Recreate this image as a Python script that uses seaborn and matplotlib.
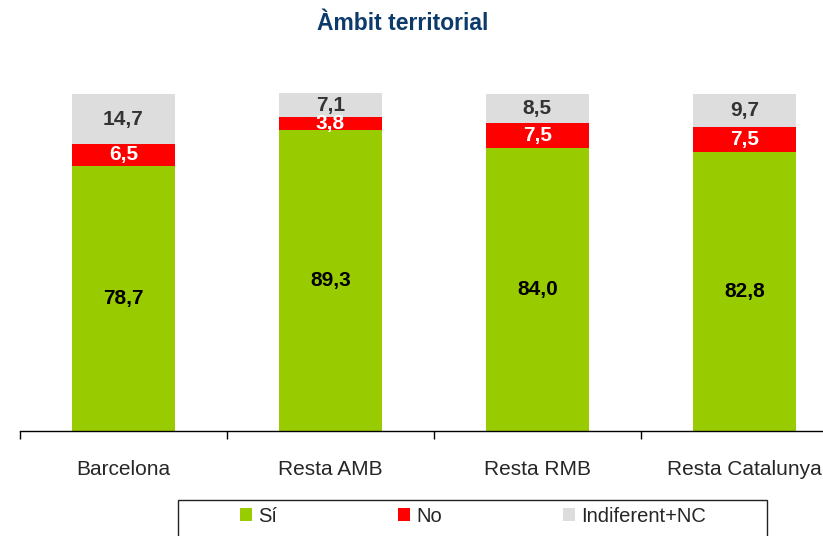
import numpy as np
import matplotlib
matplotlib.use("Agg")
import matplotlib.pyplot as plt
from matplotlib.patches import Patch, Rectangle
import seaborn as sns

# Data
categories = ["Barcelona", "Resta AMB", "Resta RMB", "Resta Catalunya"]
si = [78.7, 89.3, 84.0, 82.8]
no = [6.5, 3.8, 7.5, 7.5]
indiferent = [14.7, 7.1, 8.5, 9.7]
series_names = ["Sí", "No", "Indiferent+NC"]

colors = ["#99CC00", "#FF0000", "#DDDDDD"]
label_colors = ["#000000", "#FFFFFF", "#333333"]

sns.set_style("white")
plt.rcParams["font.family"] = ["Liberation Sans", "DejaVu Sans"]

W, H = 823, 536
fig = plt.figure(figsize=(W / 100, H / 100), dpi=100)

# axes placement in pixels (bottom axis line at y=431, 100 units ~ 337 px)
ymax = 100.5
ax_top = 431 - ymax * 3.37
ax = fig.add_axes([20 / W, (H - 431) / H, 803 / W, (431 - ax_top) / H])

bottom = np.zeros(len(categories))
for vals, col, lcol in zip([si, no, indiferent], colors, label_colors):
    sns.barplot(x=categories, y=vals, bottom=bottom, color=col, width=0.5,
                saturation=1, ax=ax, linewidth=0)
    for i, v in enumerate(vals):
        ax.text(i, bottom[i] + v / 2, f"{v:.1f}".replace(".", ","),
                ha="center", va="center", fontsize=15, fontweight="bold",
                color=lcol)
    bottom = bottom + np.array(vals)

ax.set_yticks([])
ax.set_ylabel("")
for s in ["top", "right", "left"]:
    ax.spines[s].set_visible(False)
ax.spines["bottom"].set_color("#000000")
ax.spines["bottom"].set_linewidth(1)

# category labels without ticks, boundary ticks as minor ticks
ax.set_xticks(range(len(categories)))
ax.set_xticklabels(categories, fontsize=15)
ax.set_xticks([-0.5, 0.5, 1.5, 2.5, 3.5], minor=True)
ax.tick_params(axis="x", which="major", bottom=True, length=0, pad=21)
ax.tick_params(axis="x", which="minor", bottom=True, length=6, width=1,
               color="#000000", direction="out")
ax.set_xlim(-0.5, 3.38)
ax.set_ylim(0, ymax)

fig.text(403 / W, 1 - 23 / H, "Àmbit territorial", ha="center", va="center",
         fontsize=16.5, fontweight="bold", color="#0B3A6B")

# legend in a box at the bottom
handles = [Patch(facecolor=c, edgecolor="none") for c in colors]
fig.legend(handles, series_names, loc="center left",
           bbox_to_anchor=(240 / W, (H - 516) / H), ncol=3, frameon=False,
           fontsize=14.5, handlelength=0.6, handleheight=0.6,
           handletextpad=0.3, columnspacing=6.0, borderpad=0,
           borderaxespad=0)
fig.patches.append(Rectangle((178 / W, -0.05), 589 / W, 36 / H + 0.05,
                             transform=fig.transFigure, fill=False,
                             edgecolor="#222222", linewidth=1))

fig.savefig("out.png", dpi=100)
